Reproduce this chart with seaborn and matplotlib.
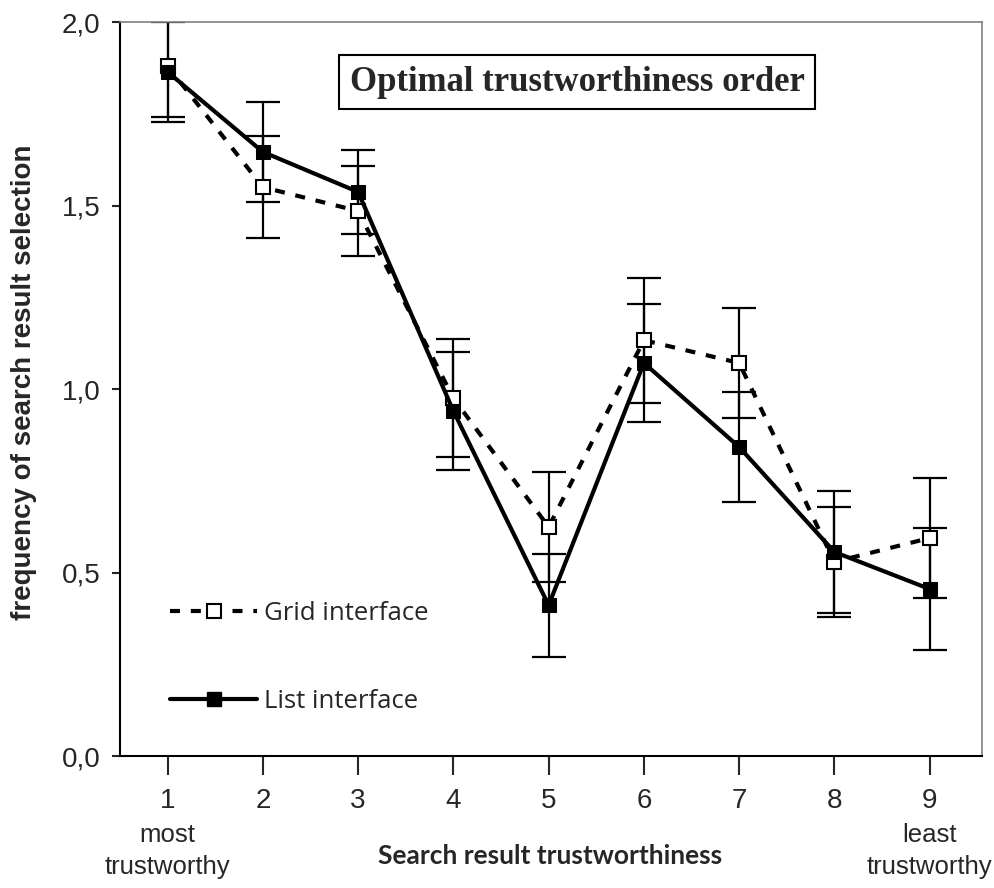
import pandas as pd
import seaborn as sns
from matplotlib import pyplot as plt
from matplotlib.lines import Line2D
from matplotlib.transforms import blended_transform_factory

# values
positions = [1, 2, 3, 4, 5, 6, 7, 8, 9]
grid_mean = [1.88, 1.55, 1.485, 0.975, 0.624, 1.133, 1.071, 0.529, 0.594]
grid_err = [0.14, 0.139, 0.123, 0.16, 0.15, 0.17, 0.15, 0.15, 0.163]
list_mean = [1.864, 1.646, 1.537, 0.94, 0.411, 1.071, 0.842, 0.556, 0.455]
list_err = [0.136, 0.136, 0.114, 0.16, 0.14, 0.16, 0.15, 0.165, 0.165]
y_ticks = [0.0, 0.5, 1.0, 1.5, 2.0]
y_tick_labels = ['0,0', '0,5', '1,0', '1,5', '2,0']

sns.set_style('white')
plt.rcParams['font.family'] = ['Liberation Sans', 'DejaVu Sans']

df_grid = pd.DataFrame({'pos': positions, 'freq': grid_mean})
df_list = pd.DataFrame({'pos': positions, 'freq': list_mean})

dash = (0, (2.4, 2.6))

fig = plt.figure(figsize=(9.95, 8.88), dpi=100)
ax = fig.add_axes([0.1206, 0.1486, 0.8664, 0.8266])

# error bars first so markers sit on top
ax.errorbar(positions, grid_mean, yerr=grid_err, fmt='none', ecolor='black',
            elinewidth=1.6, capsize=12, capthick=1.6, zorder=2)
ax.errorbar(positions, list_mean, yerr=list_err, fmt='none', ecolor='black',
            elinewidth=1.6, capsize=12, capthick=1.6, zorder=2)

sns.lineplot(data=df_grid, x='pos', y='freq', ax=ax, color='black', lw=3,
             linestyle=dash, marker='s', markersize=10,
             markerfacecolor='white', markeredgecolor='black', markeredgewidth=1.5,
             zorder=3)
sns.lineplot(data=df_list, x='pos', y='freq', ax=ax, color='black', lw=3,
             marker='s', markersize=10, markerfacecolor='black',
             markeredgecolor='black', zorder=4)

ax.set_xlim(0.5, 9.55)
ax.set_ylim(0, 2.0)
ax.set_xticks(positions)
ax.set_xticklabels([str(p) for p in positions], fontsize=20)
ax.set_yticks(y_ticks)
ax.set_yticklabels(y_tick_labels, fontsize=20)
ax.tick_params(axis='x', direction='out', length=14, width=1.5, pad=9, bottom=True)
ax.tick_params(axis='y', direction='out', length=6, width=1.5, pad=8, left=True)

for side in ['left', 'bottom']:
    ax.spines[side].set_color('black')
    ax.spines[side].set_linewidth(1.5)
for side in ['top', 'right']:
    ax.spines[side].set_color('#808080')
    ax.spines[side].set_linewidth(1.2)

ax.set_xlabel('')
ax.set_ylabel('')
fig.text(550 / 995, 1 - 856 / 888, 'Search result trustworthiness', ha='center',
         va='center', fontsize=19, fontweight='bold', family=['Lato', 'DejaVu Sans'])
fig.text(24 / 995, 1 - 382 / 888, 'frequency of search result selection', ha='center',
         va='center', rotation=90, fontsize=20, fontweight='bold')

trans = blended_transform_factory(ax.transData, fig.transFigure)
ax.text(1, 1 - 851 / 888, 'most\ntrustworthy', transform=trans, ha='center',
        va='center', fontsize=18.5, linespacing=1.4)
ax.text(9, 1 - 851 / 888, 'least\ntrustworthy', transform=trans, ha='center',
        va='center', fontsize=18.5, linespacing=1.4)

ax.text(577 / 995, 1 - 82 / 888, 'Optimal trustworthiness order', transform=fig.transFigure,
        ha='center', va='center', fontsize=25, fontweight='bold',
        family=['Liberation Serif', 'DejaVu Serif'],
        bbox=dict(boxstyle='square,pad=0.3', facecolor='white', edgecolor='black', lw=1.5))

handles = [
    Line2D([], [], color='black', lw=3, linestyle=dash, marker='s',
           markersize=10, markerfacecolor='white', markeredgecolor='black',
           markeredgewidth=1.5),
    Line2D([], [], color='black', lw=3, marker='s', markersize=10,
           markerfacecolor='black', markeredgecolor='black'),
]
ax.legend(handles, ['Grid interface', 'List interface'], loc='upper left',
          bbox_to_anchor=(0.031, 0.243), frameon=False, handlelength=3.4,
          labelspacing=2.45, handletextpad=0.25,
          prop={'family': ['Open Sans', 'DejaVu Sans'], 'size': 18.5})

fig.savefig('out.png', dpi=100)
